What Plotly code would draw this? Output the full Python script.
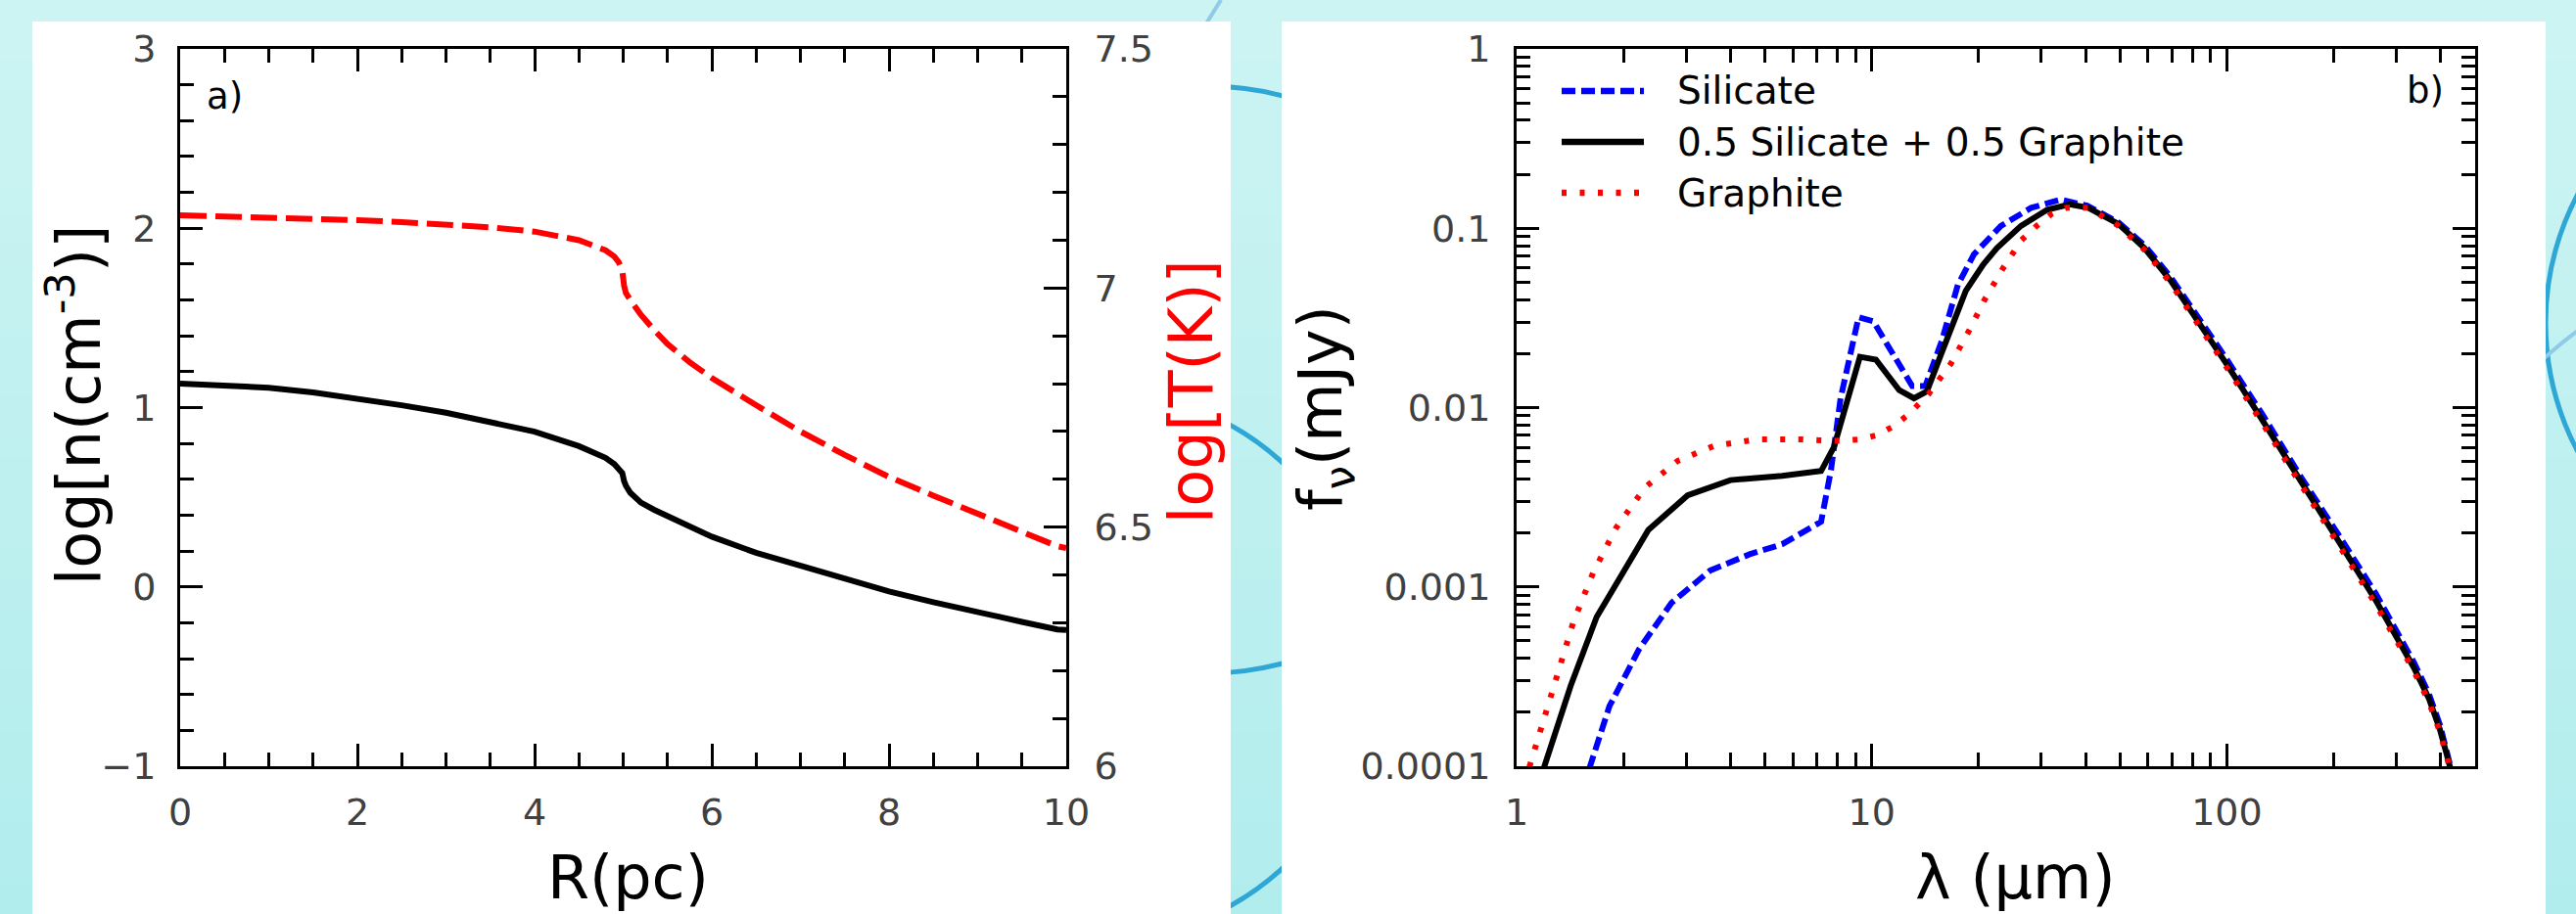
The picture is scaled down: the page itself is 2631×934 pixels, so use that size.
import plotly.graph_objects as go

W, H = 2631, 934

# ---------------- Panel a) data ----------------
R_pc = [0, 0.5, 1, 1.5, 2, 2.5, 3, 3.5, 4, 4.5, 4.8, 4.9, 4.95, 4.99, 5.01, 5.03, 5.08,
        5.2, 5.35, 5.5, 5.75, 6, 6.5, 7, 7.5, 8, 8.5, 9, 9.5, 9.9, 10]
log_n = [1.134, 1.126, 1.111, 1.085, 1.052, 1.013, 0.971, 0.92, 0.866, 0.785, 0.72, 0.685,
         0.66, 0.635, 0.59, 0.565, 0.525, 0.47, 0.43, 0.394, 0.333, 0.28, 0.19, 0.117,
         0.045, -0.025, -0.085, -0.143, -0.195, -0.237, -0.24]
log_T = [7.152, 7.150, 7.148, 7.145, 7.142, 7.138, 7.133, 7.127, 7.118, 7.100, 7.079, 7.066,
         7.054, 7.035, 7.005, 6.99, 6.975, 6.944, 6.912, 6.883, 6.845, 6.812, 6.755, 6.70,
         6.651, 6.605, 6.566, 6.529, 6.492, 6.46, 6.456]

# ---------------- Panel b) data ----------------
lam_silicate = [1.55, 1.61, 1.825, 2.21, 2.73, 3.51, 4.53, 5.59, 7.2, 7.67, 8.17, 9.18, 10.1,
                11.46, 13.0, 14.15, 15.73, 17.48, 19.4, 23.1, 28.1, 34.0, 40.4, 49.4, 58.6,
                69.4, 84.3, 100.6, 127, 162, 207, 263, 336, 370, 398, 415, 428, 445]
f_silicate = [7.59e-5, 1.0e-4, 2.16e-4, 4.48e-4, 8.15e-4, 1.236e-3, 1.52e-3, 1.73e-3, 2.31e-3,
              4.43e-3, 1.127e-2, 3.195e-2, 3.03e-2, 2.0e-2, 1.318e-2, 1.318e-2, 2.34e-2,
              4.84e-2, 7.16e-2, 0.103, 0.130, 0.1445, 0.1337, 0.1081, 0.0804, 0.0535, 0.0305,
              0.0182, 8.91e-3, 4.07e-3, 1.93e-3, 9.12e-4, 3.80e-4, 2.55e-4, 1.70e-4,
              1.25e-4, 1.0e-4, 7.1e-5]

lam_mix = [1.15, 1.2, 1.42, 1.68, 1.87, 2.35, 3.03, 4.0, 5.6, 7.2, 7.83, 8.62, 9.26, 10.27,
           10.98, 11.95, 13.15, 14.3, 15.7, 18.4, 20.6, 22.5, 26.3, 31.2, 36.1, 40.7, 49.4,
           58.6, 69.4, 84.3, 100.6, 127, 162, 207, 263, 336, 370, 398, 415, 425, 440]
f_mix = [7.83e-5, 1.023e-4, 2.81e-4, 6.79e-4, 9.77e-4, 2.08e-3, 3.24e-3, 3.94e-3, 4.16e-3,
         4.43e-3, 6.04e-3, 1.189e-2, 1.92e-2, 1.85e-2, 1.54e-2, 1.25e-2, 1.127e-2, 1.233e-2,
         2.0e-2, 4.48e-2, 6.28e-2, 7.74e-2, 0.103, 0.127, 0.136, 0.130, 0.106, 0.0774, 0.0511,
         0.0288, 0.0171, 8.26e-3, 3.78e-3, 1.78e-3, 8.36e-4, 3.55e-4, 2.40e-4, 1.60e-4,
         1.18e-4, 1.0e-4, 7.6e-5]

lam_graphite = [1.05, 1.088, 1.17, 1.30, 1.447, 1.643, 1.905, 2.30, 2.84, 3.59, 4.72, 6.35,
                7.83, 9.27, 10.3, 11.46, 12.7, 14.45, 16.7, 18.9, 20.7, 23.4, 26.4, 29.1,
                32.1, 35.3, 40.7, 49.4, 58.6, 69.4, 84.3, 100.6, 127, 162, 207, 263, 336,
                370, 398, 415, 424, 440]
f_graphite = [7.94e-5, 1.0e-4, 1.58e-4, 3.27e-4, 6.44e-4, 1.202e-3, 2.13e-3, 3.59e-3, 5.04e-3,
              6.11e-3, 6.64e-3, 6.64e-3, 6.53e-3, 6.64e-3, 7.0e-3, 7.83e-3, 9.16e-3, 1.189e-2,
              1.758e-2, 2.74e-2, 3.94e-2, 5.97e-2, 8.59e-2, 0.103, 0.1205, 0.130, 0.130,
              0.1035, 0.0759, 0.0495, 0.0279, 0.0164, 7.94e-3, 3.63e-3, 1.70e-3, 7.94e-4,
              3.40e-4, 2.30e-4, 1.55e-4, 1.15e-4, 9.8e-5, 7.4e-5]

# ---------------- tick labels ----------------
xa_ticks = [0, 2, 4, 6, 8, 10]
ya_ticks = [-1, 0, 1, 2, 3]
ya2_ticks = [6, 6.5, 7, 7.5]
ya2_labels = ["6", "6.5", "7", "7.5"]
xb_ticks = [1, 10, 100]
xb_labels = ["1", "10", "100"]
yb_ticks = [1e-4, 1e-3, 1e-2, 1e-1, 1]
yb_labels = ["0.0001", "0.001", "0.01", "0.1", "1"]

series_names = ["Silicate", "0.5 Silicate + 0.5 Graphite", "Graphite"]
series_colors = ["#0000ff", "#000000", "#ff0000"]
series_dash = ["14px,6px", "solid", "5px,13.5px"]

# minor tick positions
xa_minor = [i * 0.5 for i in range(21) if i % 4 != 0]
ya_minor = [round(-1 + i * 0.2, 2) for i in range(21) if i % 5 != 0]
ya2_minor = [round(6 + i * 0.1, 2) for i in range(16) if i % 5 != 0]
xb_minor = [m * 10 ** e for e in range(0, 3) for m in range(2, 10) if m * 10 ** e <= 500]
yb_minor = [m * 10.0 ** e for e in range(-4, 0) for m in range(2, 10)]


def px(x):
    return x / W


def py(y):
    return 1 - y / H


FONT = "DejaVu Sans"
TICKFONT = dict(family=FONT, size=38, color="#404040")

fig = go.Figure()

# panel a traces
fig.add_trace(go.Scatter(x=R_pc, y=log_n, mode="lines", name="log n",
                         line=dict(color="black", width=6), xaxis="x", yaxis="y",
                         showlegend=False))
fig.add_trace(go.Scatter(x=R_pc, y=log_T, mode="lines", name="log T",
                         line=dict(color="#ff0000", width=6, dash="27px,9px"),
                         xaxis="x", yaxis="y2", showlegend=False))

# panel b traces
for lam, f, name, col, dash in [
    (lam_silicate, f_silicate, series_names[0], series_colors[0], series_dash[0]),
    (lam_mix, f_mix, series_names[1], series_colors[1], series_dash[1]),
    (lam_graphite, f_graphite, series_names[2], series_colors[2], series_dash[2]),
]:
    fig.add_trace(go.Scatter(x=lam, y=f, mode="lines", name=name,
                             line=dict(color=col, width=6, dash=dash),
                             xaxis="x2", yaxis="y3", showlegend=False))

common = dict(showgrid=False, zeroline=False, showline=True, linecolor="black",
              linewidth=3, ticks="inside", ticklen=23, tickwidth=2.5, tickcolor="black",
              tickfont=TICKFONT, automargin=False)
minor_style = dict(ticks="inside", ticklen=14, tickwidth=2.5, tickcolor="black",
                   tickmode="array")

dom_ax = [px(184), px(1089)]
dom_bx = [px(1549), px(2528)]
dom_y = [py(783), py(50)]

fig.update_layout(
    template="none",
    width=W, height=H, autosize=False,
    margin=dict(l=0, r=0, t=0, b=0, pad=0, autoexpand=False),
    paper_bgcolor="#c0f0f0", plot_bgcolor="rgba(0,0,0,0)",
    font=dict(family=FONT),
    xaxis=dict(domain=dom_ax, range=[0, 10], anchor="y", tickmode="array",
               tickvals=xa_ticks, mirror="ticks", ticklabelstandoff=11,
               minor=dict(tickvals=xa_minor, **minor_style), **common),
    yaxis=dict(domain=dom_y, range=[-1, 3], anchor="x", tickmode="array",
               tickvals=ya_ticks, ticklabelstandoff=14,
               minor=dict(tickvals=ya_minor, **minor_style), **common),
    yaxis2=dict(overlaying="y", side="right", anchor="x", range=[6, 7.5],
                tickmode="array", tickvals=ya2_ticks, ticktext=ya2_labels,
                ticklabelstandoff=18,
                minor=dict(tickvals=ya2_minor, **minor_style), **common),
    xaxis2=dict(domain=dom_bx, type="log", range=[0, 2.69897], anchor="y3",
                tickmode="array", tickvals=xb_ticks, ticktext=xb_labels, mirror="ticks",
                ticklabelstandoff=11,
                minor=dict(tickvals=xb_minor, **minor_style), **common),
    yaxis3=dict(domain=dom_y, type="log", range=[-4, 0], anchor="x2",
                tickmode="array", tickvals=yb_ticks, ticktext=yb_labels, mirror="ticks",
                ticklabelstandoff=16,
                minor=dict(tickvals=yb_minor, **minor_style), **common),
)

# ---------------- background decoration ----------------
shapes = []
top_rgb = (204, 244, 243)
bot_rgb = (178, 237, 237)
nb = 30
for i in range(nb):
    t = i / (nb - 1)
    c = tuple(round(top_rgb[k] + (bot_rgb[k] - top_rgb[k]) * t) for k in range(3))
    shapes.append(dict(type="rect", xref="paper", yref="paper", layer="below",
                       x0=0, x1=1, y0=py(H * (i + 1) / nb + 1), y1=py(H * i / nb),
                       fillcolor="rgb(%d,%d,%d)" % c, line=dict(width=0)))


def circle(cx, cy, r, color, width):
    return dict(type="circle", xref="paper", yref="paper", layer="below",
                x0=px(cx - r), x1=px(cx + r), y0=py(cy + r), y1=py(cy - r),
                line=dict(color=color, width=width), fillcolor="rgba(0,0,0,0)")


shapes.append(circle(1233, 388, 300, "#2ea6d6", 5))
shapes.append(circle(1120, 680, 281, "#2ea6d6", 5))
shapes.append(circle(2880, 330, 280, "#2ea6d6", 5))
shapes.append(circle(2900, 700, 450, "#8ecbe9", 4))
shapes.append(dict(type="line", xref="paper", yref="paper", layer="below",
                   x0=px(1232), y0=py(24), x1=px(1247), y1=py(0),
                   line=dict(color="#8ecbe9", width=4)))

# white panels
for x0, x1 in [(33, 1257), (1309, 2600)]:
    shapes.append(dict(type="rect", xref="paper", yref="paper", layer="below",
                       x0=px(x0), x1=px(x1), y0=-0.01, y1=py(22),
                       fillcolor="white", line=dict(width=0)))

# manual legend sample lines
leg_rows = [93, 145, 197]
for yy, col, dash in zip(leg_rows, series_colors, series_dash):
    shapes.append(dict(type="line", xref="paper", yref="paper", layer="above",
                       x0=px(1595), x1=px(1679), y0=py(yy), y1=py(yy),
                       line=dict(color=col, width=6.5, dash=dash)))

fig.update_layout(shapes=shapes)

ann = []
TITLE = dict(family=FONT, size=62, color="black")
ann.append(dict(text="R(pc)", x=px(641), y=0, xref="paper", yref="paper",
                showarrow=False, xanchor="center", yanchor="bottom", borderpad=0,
                font=TITLE))
ann.append(dict(text="λ (μm)", x=px(2058), y=0, xref="paper", yref="paper",
                showarrow=False, xanchor="center", yanchor="bottom", borderpad=0,
                font=TITLE))
ann.append(dict(text="log[n(cm<sup>-3</sup>)]", x=px(76), y=py(414), xref="paper",
                yref="paper", showarrow=False, textangle=-90, xanchor="center",
                yanchor="middle", font=TITLE))
ann.append(dict(text="log[T(K)]", x=px(1216), y=py(400), xref="paper", yref="paper",
                showarrow=False, textangle=-90, xanchor="center", yanchor="middle",
                font=dict(family=FONT, size=62, color="#ff0000")))
ann.append(dict(text="f<sub>ν</sub>(mJy)", x=px(1352), y=py(417), xref="paper",
                yref="paper", showarrow=False, textangle=-90, xanchor="center",
                yanchor="middle", font=TITLE))
ann.append(dict(text="a)", x=px(209), y=py(98), xref="paper", yref="paper",
                showarrow=False, xanchor="left", yanchor="middle",
                font=dict(family=FONT, size=37, color="black")))
ann.append(dict(text="b)", x=px(2498), y=py(93), xref="paper", yref="paper",
                showarrow=False, xanchor="right", yanchor="middle",
                font=dict(family=FONT, size=37, color="black")))
for yy, name in zip(leg_rows, series_names):
    ann.append(dict(text=name, x=px(1711), y=py(yy), xref="paper", yref="paper",
                    showarrow=False, xanchor="left", yanchor="middle",
                    font=dict(family=FONT, size=39, color="black")))
fig.update_layout(annotations=ann)

fig.write_html("out.html")
